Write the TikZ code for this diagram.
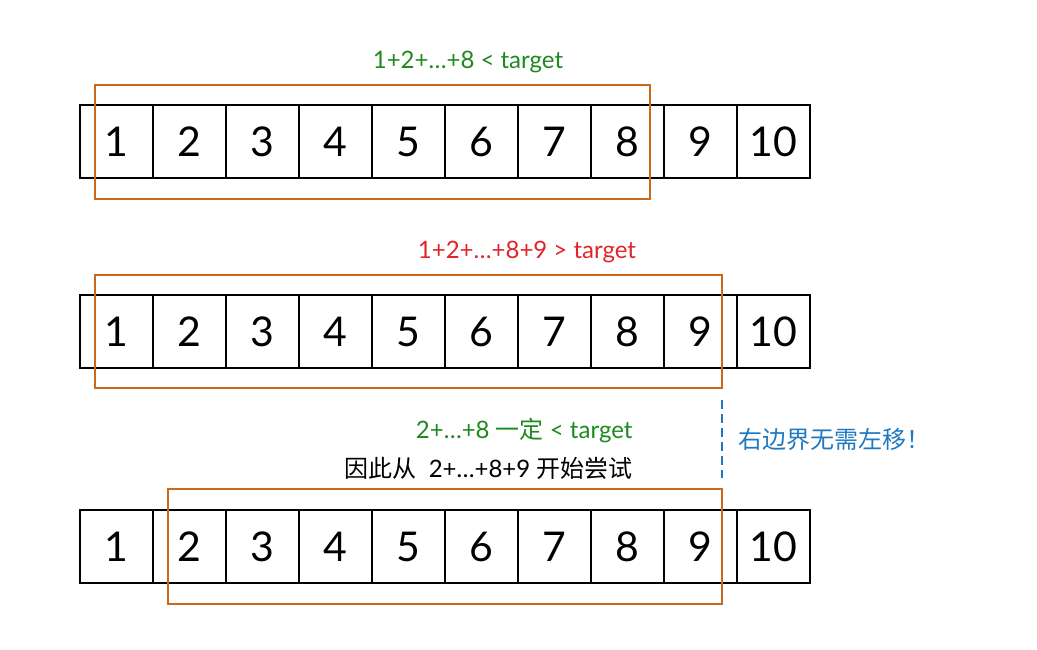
\documentclass[tikz,border=0pt]{standalone}
\usepackage{fontspec}
\setmainfont{Lato}
\newfontfamily\cjk{Noto Sans CJK SC}
\usepackage{tikz}
\usetikzlibrary{positioning, calc}
\definecolor{windowcolor}{HTML}{C8691C}
\definecolor{lesscolor}{HTML}{1E8A1E}
\definecolor{morecolor}{HTML}{E0252A}
\definecolor{notecolor}{HTML}{1F78C0}

\begin{document}
\begin{tikzpicture}[x=1pt, y=-1pt,
    cell/.style={rectangle, draw=black, line width=1.8pt, minimum size=73pt,
                 inner sep=0pt, outer sep=0pt, font=\fontsize{41}{41}\selectfont},
    window/.style={draw=windowcolor, line width=1.8pt},
    sum/.style={font=\fontsize{24}{28}\selectfont},
    cut/.style={draw=notecolor, line width=2pt, dash pattern=on 9pt off 5pt},
    node distance=0pt
]
    \useasboundingbox (0,0) rectangle (1037,649);

    % three copies of the array
    \foreach \r/\y in {1/141.5, 2/331.5, 3/546.5} {
        \node[cell] (r\r c1) at (116.5,\y) {1};
        \foreach \i [remember=\i as \j (initially 1)] in {2,...,10}
            \node[cell, right=of r\r c\j] (r\r c\i) {\i};
    }

    % sliding windows
    \draw[window] ($(r1c1.north west)+(15pt,20pt)$) rectangle ($(r1c8.south east)+(-14pt,-21pt)$);
    \draw[window] ($(r2c1.north west)+(15pt,20pt)$) rectangle ($(r2c9.south east)+(-15pt,-20pt)$);
    \draw[window] ($(r3c2.north west)+(15pt,21pt)$) rectangle ($(r3c9.south east)+(-15pt,-21pt)$);

    \node[sum, text=lesscolor] (sum1) at (468,62) {1+2+…+8 < target};
    \node[sum, text=morecolor] (sum2) at (527,252) {1+2+…+8+9 > target};
    \node[sum, text=lesscolor, anchor=east] (sum3) at (636,431) {2+…+8 {\cjk 一定} < target};
    \node[sum, anchor=east] (start) at (636,468) {{\cjk 因此从}\ \ 2+…+8+9 {\cjk 开始尝试}};

    % right border stays
    \coordinate (cut top) at ($(r2c9.south east)+(-15pt,-32pt)$);
    \coordinate (cut bot) at ($(r3c9.north east)+(-15pt,32pt)$);
    \draw[cut] (cut top) -- (cut bot);
    \node[sum, text=notecolor, anchor=west] (note) at ($(cut top)!0.5!(cut bot)+(13pt,0pt)$)
        {\cjk 右边界无需左移！};

\end{tikzpicture}
\end{document}
